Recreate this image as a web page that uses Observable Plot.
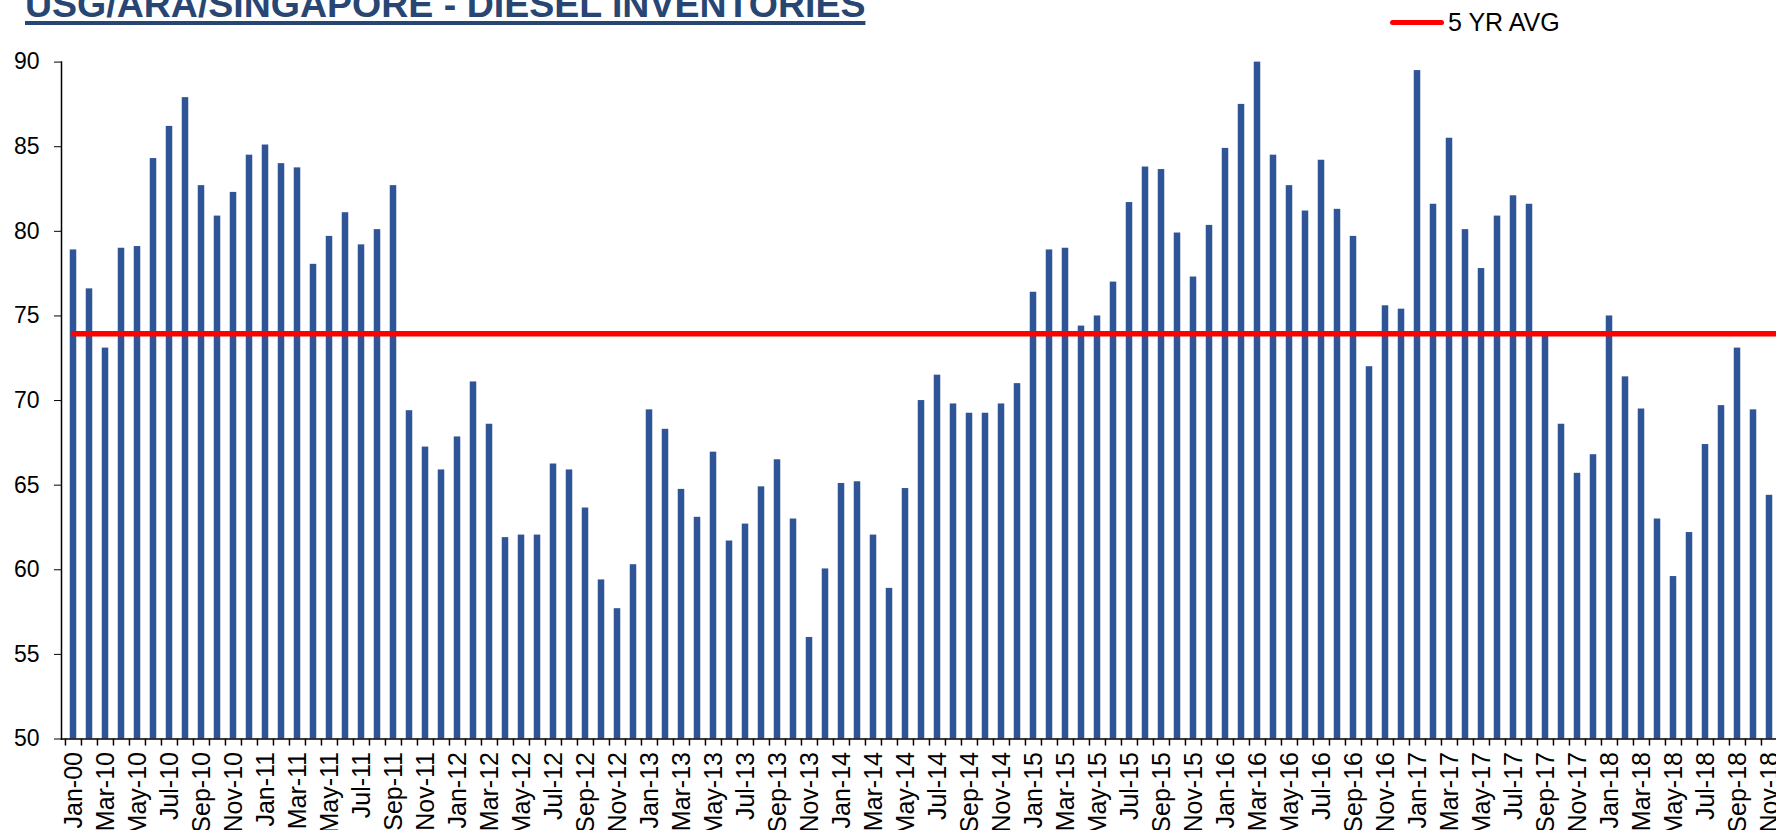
<!DOCTYPE html>
<html>
<head>
<meta charset="utf-8">
<script src="https://cdn.jsdelivr.net/npm/d3@7"></script>
<script src="https://cdn.jsdelivr.net/npm/@observablehq/plot@0.6"></script>
<style>
  html, body { margin: 0; padding: 0; background: #fff; overflow: hidden; width: 1776px; height: 830px; }
  #wrap { position: relative; width: 1776px; height: 830px; overflow: hidden; }
  #title {
    position: absolute; left: 25px; top: -14.3px; white-space: nowrap;
    font-family: "Liberation Sans", Arial, sans-serif; font-weight: bold;
    font-size: 37.5px; line-height: 37.5px; color: #284674;
    text-decoration: underline; text-decoration-thickness: 3.5px; text-underline-offset: 4px;
  }
  #legend-line { position: absolute; left: 1390px; top: 19.5px; width: 54px; height: 5.5px; background: #FF0000; border-radius: 3px; }
  #legend-text {
    position: absolute; left: 1448px; top: 10px; white-space: nowrap;
    font-family: "Liberation Sans", Arial, sans-serif; font-size: 25px; line-height: 25px; color: #000;
  }
  #chart { position: absolute; left: 0; top: 0; }
</style>
</head>
<body>
<div id="wrap">
  <div id="chart"></div>
  <div id="title">USG/ARA/SINGAPORE - DIESEL INVENTORIES</div>
  <div id="legend-line"></div>
  <div id="legend-text">5 YR AVG</div>
</div>
<script>
// ---- data ----
const monthNames = ["Jan","Feb","Mar","Apr","May","Jun","Jul","Aug","Sep","Oct","Nov","Dec"];
const years = ["10","11","12","13","14","15","16","17","18"];
// Jan-10 .. Dec-18 (Dec-18 lies past the right edge of the picture)
const categories = years.flatMap(y => monthNames.map(m => `${m}-${y}`));

const inventories = [
  78.9, 76.6, 73.1, 79.0, 79.1, 84.3, 86.2, 87.9, 82.7, 80.9, 82.3, 84.5,
  85.1, 84.0, 83.75, 78.05, 79.7, 81.1, 79.2, 80.1, 82.7, 69.4, 67.25, 65.9,
  67.85, 71.1, 68.6, 61.9, 62.05, 62.05, 66.25, 65.9, 63.65, 59.4, 57.7, 60.3,
  69.45, 68.3, 64.75, 63.1, 66.95, 61.7, 62.7, 64.9, 66.5, 63.0, 56.0, 60.05,
  65.1, 65.2, 62.05, 58.9, 64.8, 70.0, 71.5, 69.8, 69.25, 69.25, 69.8, 71.0,
  76.4, 78.9, 79.0, 74.4, 75.0, 77.0, 81.7, 83.8, 83.65, 79.9, 77.3, 80.35,
  84.9, 87.5, 90.0, 84.5, 82.7, 81.2, 84.2, 81.3, 79.7, 72.0, 75.6, 75.4,
  89.5, 81.6, 85.5, 80.1, 77.8, 80.9, 82.1, 81.6, 73.9, 68.6, 65.7, 66.8,
  75.0, 71.4, 69.5, 63.0, 59.6, 62.2, 67.4, 69.7, 73.1, 69.45, 64.4
];

const fiveYrAvg = 73.95;

const tickLabels = [
  "Jan-00","Mar-10","May-10","Jul-10","Sep-10","Nov-10",
  "Jan-11","Mar-11","May-11","Jul-11","Sep-11","Nov-11",
  "Jan-12","Mar-12","May-12","Jul-12","Sep-12","Nov-12",
  "Jan-13","Mar-13","May-13","Jul-13","Sep-13","Nov-13",
  "Jan-14","Mar-14","May-14","Jul-14","Sep-14","Nov-14",
  "Jan-15","Mar-15","May-15","Jul-15","Sep-15","Nov-15",
  "Jan-16","Mar-16","May-16","Jul-16","Sep-16","Nov-16",
  "Jan-17","Mar-17","May-17","Jul-17","Sep-17","Nov-17",
  "Jan-18","Mar-18","May-18","Jul-18","Sep-18","Nov-18"
];

const yTicks = [50, 55, 60, 65, 70, 75, 80, 85, 90];

// ---- build ----
const data = categories.map((m, i) => ({month: m, value: inventories[i], avg: fiveYrAvg}));
const barData = data.filter(d => d.value != null);
const tickCats = categories.filter((_, i) => i % 2 === 0).slice(0, tickLabels.length);
const labelMap = new Map(tickCats.map((c, i) => [c, tickLabels[i]]));

const W = 1776, H = 830;
const step = 16.083;
const x0 = 61;
const yMin = yTicks[0];

const chart = Plot.plot({
  width: W, height: H,
  marginTop: 61.6, marginBottom: 91.5, marginLeft: x0, marginRight: 0,
  style: {fontFamily: "'Liberation Sans', Arial, sans-serif", color: "#000", background: "transparent", overflow: "hidden"},
  x: {type: "band", domain: categories, range: [x0, x0 + step * categories.length], padding: 0},
  y: {domain: [yTicks[0], yTicks[yTicks.length - 1]]},
  marks: [
    Plot.barY(barData, {x: "month", y1: () => yMin, y2: "value", fill: "#2F5597", insetLeft: 4.75, insetRight: 4.75}),
    Plot.lineY(data, {x: "month", y: "avg", stroke: "#FF0000", strokeWidth: 5.5}),
    Plot.frame({anchor: "left", strokeWidth: 1.5}),
    Plot.frame({anchor: "bottom", strokeWidth: 1.5}),
    Plot.axisY(yTicks, {tickSize: 7, tickPadding: 15, fontSize: 23, label: null}),
    Plot.axisX(categories, {tickSize: 7, text: null, dx: -step / 2, strokeWidth: 1.5, label: null}),
    Plot.axisX(tickCats, {tickSize: 0, tickPadding: 13, tickRotate: -90, fontSize: 25, tickFormat: d => labelMap.get(d), label: null})
  ]
});
document.getElementById("chart").appendChild(chart);
</script>
</body>
</html>
